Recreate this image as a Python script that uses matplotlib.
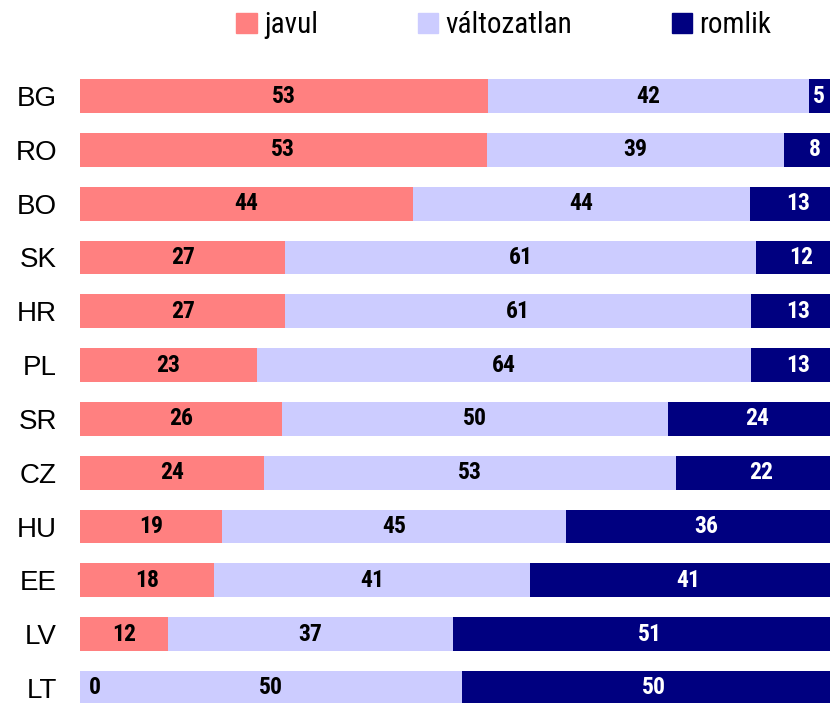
import numpy as np
import matplotlib
matplotlib.use("Agg")
import matplotlib.pyplot as plt
from matplotlib.patches import Patch

plt.rcParams['font.family'] = ['Liberation Sans', 'DejaVu Sans']
NARROW = ['Roboto Condensed', 'Liberation Sans', 'DejaVu Sans']

# --- data ---
countries = ["BG", "RO", "BO", "SK", "HR", "PL", "SR", "CZ", "HU", "EE", "LV", "LT"]
# printed (rounded) values
javul = [53, 53, 44, 27, 27, 23, 26, 24, 19, 18, 12, 0]
valtozatlan = [42, 39, 44, 61, 61, 64, 50, 53, 45, 41, 37, 50]
romlik = [5, 8, 13, 12, 13, 13, 24, 22, 36, 41, 51, 50]
# bar lengths (unrounded shares, %)
javul_share = [53.3, 53.1, 43.5, 26.8, 26.8, 23.1, 26.4, 24.0, 18.5, 17.5, 11.5, 0.0]
valtozatlan_share = [41.8, 38.8, 43.9, 61.5, 60.8, 64.5, 50.3, 53.8, 45.0, 41.3, 37.2, 49.9]
romlik_share = [4.9, 8.1, 12.6, 11.7, 12.4, 12.4, 23.3, 22.2, 36.5, 41.2, 51.3, 50.1]

series = [("javul", javul_share, javul, "#FF8080", "black"),
          ("változatlan", valtozatlan_share, valtozatlan, "#CCCCFF", "black"),
          ("romlik", romlik_share, romlik, "#000080", "white")]

fig = plt.figure(figsize=(8.3, 7.03), dpi=100)
ax = fig.add_axes([80 / 830, 0, 750 / 830, (703 - 60) / 703])

xmax = 97.9
y = np.arange(len(countries))
left = np.zeros(len(countries))
for name, share, labels, col, tcol in series:
    share = np.array(share, dtype=float)
    ax.barh(y, share, left=left, height=0.63, color=col, label=name)
    for i, v in enumerate(share):
        xc = left[i] + v / 2
        xc = min(max(xc, 1.9), xmax - 1.4)
        ax.text(xc, y[i], f"{labels[i]}", ha="center", va="center",
                fontsize=17, fontweight="bold", color=tcol, family=NARROW)
    left += share

ax.set_xlim(0, xmax)
ax.set_ylim(11.28, -0.67)
ax.set_yticks(y)
ax.set_yticklabels(countries, fontsize=20)
ax.tick_params(axis="y", length=0, pad=16.5)
ax.set_xticks([])
for s in ax.spines.values():
    s.set_visible(False)

handles = [Patch(color=c, label=n) for n, _, _, c, _ in series]
fig.legend(handles=handles, loc="center", bbox_to_anchor=(0.607, 0.964), ncol=3,
           frameon=False, prop={'family': NARROW, 'size': 21},
           handlelength=0.7, handleheight=0.7,
           handletextpad=0.25, columnspacing=3.42, borderaxespad=0)

fig.savefig("out.png", dpi=100)
